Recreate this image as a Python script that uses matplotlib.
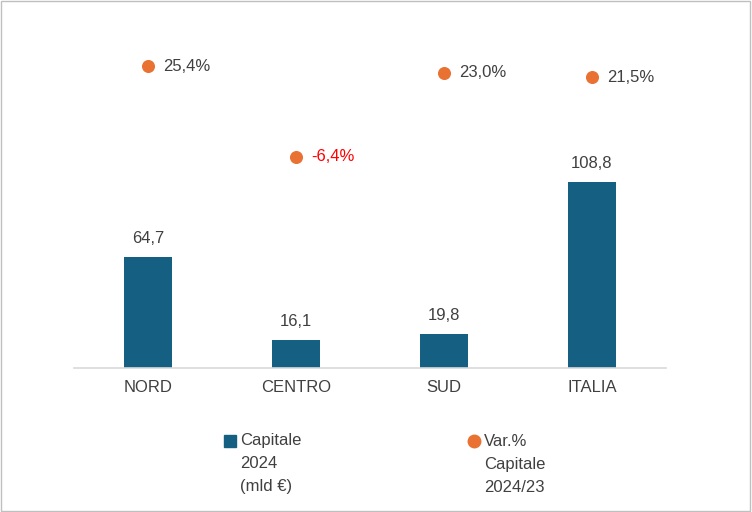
import numpy as np
import matplotlib
matplotlib.use("Agg")
import matplotlib.pyplot as plt
from matplotlib.lines import Line2D
from matplotlib.patches import Rectangle

plt.rcParams["font.family"] = ["Liberation Sans", "DejaVu Sans"]

categories = ["NORD", "CENTRO", "SUD", "ITALIA"]
capitale = [64.7, 16.1, 19.8, 108.8]
var_pct = [25.4, -6.4, 23.0, 21.5]
legend_labels = [["Capitale", "2024", "(mld €)"], ["Var.%", "Capitale", "2024/23"]]

BAR_COLOR = "#156082"
DOT_COLOR = "#E97132"
TEXT = "#404040"
FS = 12


def fmt(v, pct=False):
    s = f"{v:.1f}".replace(".", ",")
    return s + "%" if pct else s


W, H = 752, 512
fig = plt.figure(figsize=(W / 100, H / 100), dpi=100)
fig.patches.append(Rectangle((0.001, 0.001), 0.997, 0.997, transform=fig.transFigure,
                             fill=False, edgecolor="#BFBFBF", lw=1.0))

ax = fig.add_axes([0.0984, 0.28125, 0.787, 0.6797])
x = np.arange(len(categories))
ax.bar(x, capitale, width=0.32, color=BAR_COLOR, zorder=2)
for xi, v in zip(x, capitale):
    ax.annotate(fmt(v), (xi, v), xytext=(0, 8), textcoords="offset points",
                ha="center", va="bottom", fontsize=FS, color=TEXT)

ax.set_xlim(-0.5, len(categories) - 0.5)
ax.set_ylim(0, 203.5)
ax.set_xticks(x)
ax.set_xticklabels(categories, fontsize=FS, color=TEXT)
ax.tick_params(axis="x", length=0, pad=9)
ax.set_yticks([])
for s in ["top", "right", "left"]:
    ax.spines[s].set_visible(False)
ax.spines["bottom"].set_color("#D9D9D9")
ax.spines["bottom"].set_linewidth(1.2)

ax2 = ax.twinx()
ax2.set_ylim(-80.2, 41.5)
ax2.scatter(x, var_pct, s=70, color=DOT_COLOR, zorder=3)
for xi, v in zip(x, var_pct):
    ax2.annotate(fmt(v, pct=True), (xi, v), xytext=(11, 0), textcoords="offset points",
                 ha="left", va="center", fontsize=FS,
                 color="#FF0000" if v < 0 else TEXT)
ax2.set_yticks([])
for s in ax2.spines.values():
    s.set_visible(False)

# legend, drawn by hand so markers sit on the first text line
leg_x = [230, 474]
leg_y = 441
line_h = 23
markers = [("s", BAR_COLOR), ("o", DOT_COLOR)]
for lx, (m, c), lines in zip(leg_x, markers, legend_labels):
    fig.add_artist(Line2D([lx / W], [1 - leg_y / H], marker=m, color=c,
                          markersize=9, linestyle="none", transform=fig.transFigure))
    for i, txt in enumerate(lines):
        fig.text((lx + 10) / W, 1 - (leg_y + i * line_h) / H, txt,
                 ha="left", va="center", fontsize=FS, color=TEXT)

fig.savefig("out.png", dpi=100)
